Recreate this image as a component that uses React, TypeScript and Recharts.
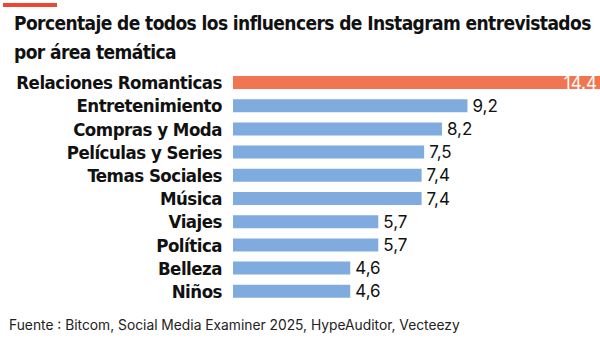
import { BarChart, Bar, XAxis, YAxis, Cell, LabelList } from 'recharts';

const categories = [
  'Relaciones Romanticas',
  'Entretenimiento',
  'Compras y Moda',
  'Películas y Series',
  'Temas Sociales',
  'Música',
  'Viajes',
  'Política',
  'Belleza',
  'Niños',
];
const values = [14.4, 9.2, 8.2, 7.5, 7.4, 7.4, 5.7, 5.7, 4.6, 4.6];
const valueLabels = ['14.4', '9,2', '8,2', '7,5', '7,4', '7,4', '5,7', '5,7', '4,6', '4,6'];

const data = categories.map((name, i) => ({ name, value: values[i], label: valueLabels[i] }));

const ORANGE = '#F07550';
const BLUE = '#7FABDF';
const condensed = '"DejaVu Sans Condensed", "Liberation Sans Narrow", sans-serif';

const ValueLabel = (props: any) => {
  const { x, y, width, height, index } = props;
  const first = index === 0;
  return (
    <text
      x={first ? x + width - 3 : x + width + 5}
      y={y + height / 2}
      dy={6}
      textAnchor={first ? 'end' : 'start'}
      fill={first ? '#fff' : '#111'}
      fontSize={17}
      fontFamily="Inter, Roboto, sans-serif"
    >
      {valueLabels[index]}
    </text>
  );
};

const CategoryTick = (props: any) => {
  const { x, y, payload } = props;
  return (
    <text
      x={x}
      y={y}
      dy={6.5}
      textAnchor="end"
      fill="#111"
      fontSize={18.5}
      fontWeight="bold"
      fontFamily={condensed}
      letterSpacing={-0.5}
    >
      {payload.value}
    </text>
  );
};

export default function App() {
  return (
    <div style={{ position: 'relative', width: 600, height: 342, background: '#fff', overflow: 'hidden' }}>
      <style>{'body{margin:0}'}</style>
      <div style={{ position: 'absolute', left: 3, top: 3, width: 54, height: 4, background: '#EE4632' }} />
      <div
        style={{
          position: 'absolute',
          left: 14,
          top: 9,
          width: 590,
          fontFamily: condensed,
          fontWeight: 'bold',
          fontSize: 19,
          letterSpacing: -0.6,
          lineHeight: '29px',
          color: '#111',
          whiteSpace: 'nowrap',
        }}
      >
        Porcentaje de todos los influencers de Instagram entrevistados
        <br />
        por área temática
      </div>
      <div style={{ position: 'absolute', left: 0, top: 71 }}>
        <BarChart
          width={600}
          height={232}
          data={data}
          layout="vertical"
          margin={{ top: 0, right: 0, bottom: 0, left: 0 }}
          barCategoryGap={5}
        >
          <XAxis type="number" domain={[0, 14.4]} hide />
          <YAxis
            type="category"
            dataKey="name"
            width={233}
            axisLine={false}
            tickLine={false}
            tickMargin={5}
            interval={0}
            tick={<CategoryTick />}
          />
          <Bar dataKey="value" barSize={13} isAnimationActive={false}>
            {data.map((d, i) => (
              <Cell key={d.name} fill={i === 0 ? ORANGE : BLUE} />
            ))}
            <LabelList dataKey="label" content={ValueLabel} />
          </Bar>
        </BarChart>
      </div>
      <div
        style={{
          position: 'absolute',
          left: 9,
          top: 317,
          fontFamily: 'Inter, sans-serif',
          fontSize: 13.8,
          color: '#222',
          whiteSpace: 'nowrap',
        }}
      >
        Fuente : Bitcom, Social Media Examiner 2025, HypeAuditor, Vecteezy
      </div>
    </div>
  );
}
